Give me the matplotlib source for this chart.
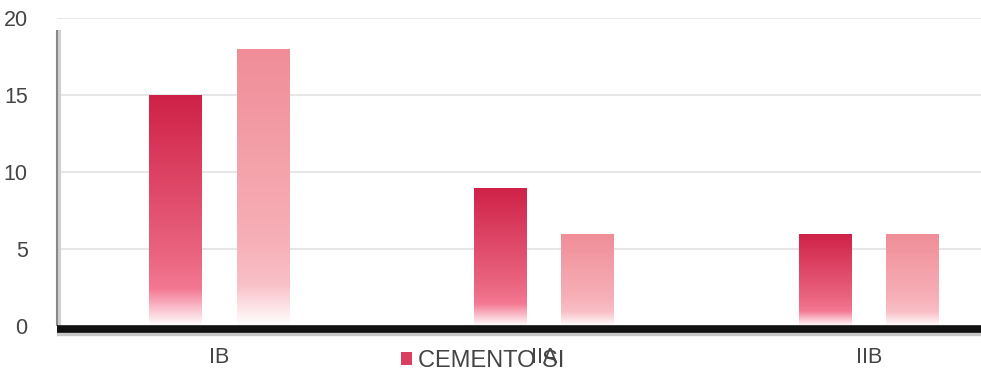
import numpy as np
import matplotlib.pyplot as plt
from matplotlib.colors import LinearSegmentedColormap
from matplotlib.patches import Rectangle

plt.rcParams['font.family'] = ['Liberation Sans', 'DejaVu Sans']

categories = ['IB', 'IIA', 'IIB']
cemento_si = [15, 9, 6]
cemento_otro = [18, 6, 6]
yticks = [0, 5, 10, 15, 20]

# degradados: de abajo (blanco) a arriba (color)
cmap_si = LinearSegmentedColormap.from_list(
    'si', [(0, '#ffffff'), (0.16, '#f47892'), (0.3, '#ea6580'), (1, '#cf2148')])
cmap_otro = LinearSegmentedColormap.from_list(
    'otro', [(0, '#ffffff'), (0.15, '#f9c0c7'), (0.3, '#f7b0b8'), (1, '#f08d97')])

fig = plt.figure(figsize=(9.81, 3.71), dpi=100)
ax = fig.add_axes([0.058, 0.121, 0.942, 0.830])

x = np.arange(len(categories))
w = 0.163
off = 0.135

grad = np.linspace(0, 1, 256).reshape(-1, 1)

def gradient_bars(xpos, vals, cmap):
    bars = ax.bar(xpos, vals, width=w, color='none', edgecolor='none', zorder=3)
    for b in bars:
        x0, h = b.get_x(), b.get_height()
        im = ax.imshow(grad, cmap=cmap, origin='lower', aspect='auto',
                       extent=[x0, x0 + b.get_width(), 0, h], zorder=3)
        im.set_clip_path(b)

gradient_bars(x - off, cemento_si, cmap_si)
gradient_bars(x + off, cemento_otro, cmap_otro)

ax.set_xlim(-0.5, 2.345)
ax.set_ylim(0, 20)
ax.set_yticks(yticks)
ax.set_xticks(x)
ax.set_xticklabels(categories)
ax.tick_params(length=0, labelsize=15.5, colors='#444444')
ax.tick_params(axis='x', pad=15)
ax.tick_params(axis='y', pad=21)

for v in yticks[1:]:
    ax.axhline(v, color='#e4e4e4', lw=1.3, zorder=1)

for s in ax.spines.values():
    s.set_visible(False)

# eje inferior grueso con sombra
ax.plot([-0.5, 2.345], [-0.4, -0.4], color='#c8c8c8', lw=6, zorder=4,
        clip_on=False, solid_capstyle='butt')
ax.plot([-0.5, 2.345], [-0.22, -0.22], color='#111111', lw=5.5, zorder=5,
        clip_on=False, solid_capstyle='butt')
ax.plot([-0.495, -0.495], [0, 19.2], color='#d0d0d0', lw=3, zorder=4,
        clip_on=False, solid_capstyle='butt')
ax.plot([-0.5, -0.5], [0, 19.2], color='#888888', lw=1.5, zorder=4,
        clip_on=False, solid_capstyle='butt')

handle = Rectangle((0, 0), 1, 1, facecolor='#d9405f')
fig.legend([handle], ['CEMENTO SI'], loc='center', bbox_to_anchor=(0.492, 0.028),
           frameon=False, fontsize=17, handlelength=0.5, handleheight=0.5,
           handletextpad=0.25, labelcolor='#444444')

fig.savefig('out.png', dpi=100)
